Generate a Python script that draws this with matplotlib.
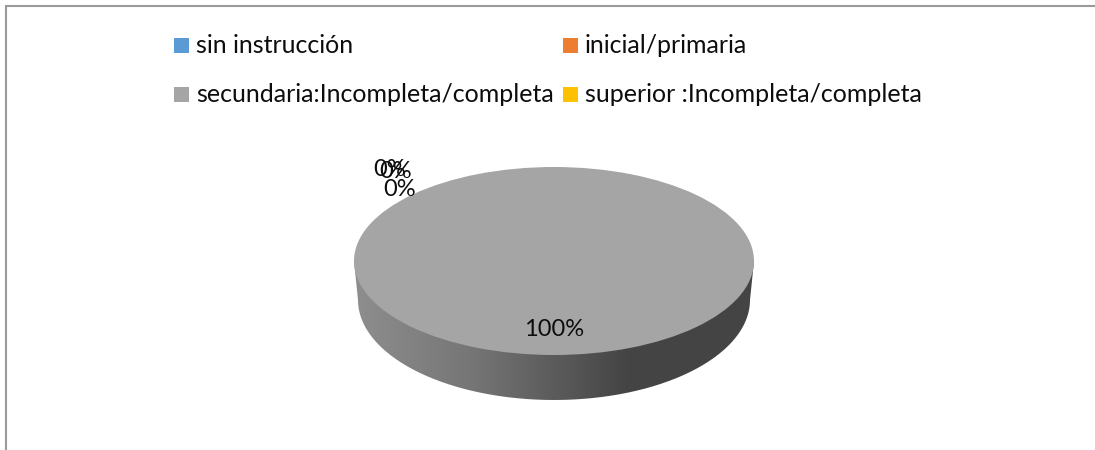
"""
Pie chart of education level, drawn with a fake 3D side
"""
import matplotlib
matplotlib.use("Agg")
import matplotlib.pyplot as plt
from matplotlib.patches import PathPatch, Rectangle
from matplotlib.path import Path
from matplotlib.colors import LinearSegmentedColormap
import numpy as np

categories = ["sin instrucción", "inicial/primaria",
              "secundaria:Incompleta/completa", "superior :Incompleta/completa"]
values = [0, 0, 100, 0]
colors = ["#5b9bd5", "#ed7d31", "#a5a5a5", "#ffc000"]

W, H = 1095, 450
plt.rcParams["font.family"] = ["Lato", "DejaVu Sans"]

fig = plt.figure(figsize=(W / 100, H / 100), dpi=100)

# background axes works in image pixels, y going down
base = fig.add_axes([0, 0, 1, 1], zorder=0)
base.set_xlim(0, W)
base.set_ylim(H, 0)
base.axis("off")

# chart border, right and bottom run off the picture
base.plot([5.5, 5.5, W], [H, 5.5, 5.5], color="#9a9a9a", lw=1.5,
          solid_capstyle="butt", solid_joinstyle="miter")

# side of the disc
t = np.linspace(np.pi, 0, 200)
side_x = np.concatenate([[354], 554 + 196 * np.cos(t), [754]])
side_y = np.concatenate([[261], 300 + 100 * np.sin(t), [261]])
side = PathPatch(Path(np.column_stack([side_x, side_y])), fc="none", ec="none")
base.add_patch(side)
shade = LinearSegmentedColormap.from_list(
    "shade", [(0, "#8e8e8e"), (0.3, "#757575"), (0.68, "#454545"), (1, "#444444")])
img = base.imshow(np.linspace(0, 1, 400).reshape(1, -1), cmap=shade,
                  extent=(354, 754, 400, 261), aspect="auto", zorder=1)
img.set_clip_path(side)
base.set_xlim(0, W)
base.set_ylim(H, 0)

# pie on top, squashed to the ellipse
ax = fig.add_axes([354 / W, 1 - 355 / H, 400 / W, 188 / H], zorder=1)
ax.pie(values, colors=colors, startangle=90, counterclock=False, radius=1)
ax.set_aspect("auto")
ax.set_xlim(-1, 1)
ax.set_ylim(-1, 1)

# legend
legend_x = [174, 563]
legend_text_x = [196, 585]
legend_y = [45.5, 94.5]
for i in range(len(categories)):
    col = i % 2
    row = i // 2
    base.add_patch(Rectangle((legend_x[col], legend_y[row] - 7.5), 15, 15,
                             fc=colors[i], ec="none"))
    base.text(legend_text_x[col], legend_y[row], categories[i], fontsize=18,
              color="#0d0d0d", va="center", ha="left")

# data labels, the three empty slices pile up
label_pos = [(390, 169), (396, 172), (400, 190), (554, 329)]
label_order = [0, 1, 3, 2]
for pos, i in zip(label_pos, label_order):
    fig.text(pos[0] / W, 1 - pos[1] / H, f"{values[i]}%", fontsize=17,
             color="#0d0d0d", va="center", ha="center", zorder=3)

fig.savefig("out.png", dpi=100)
